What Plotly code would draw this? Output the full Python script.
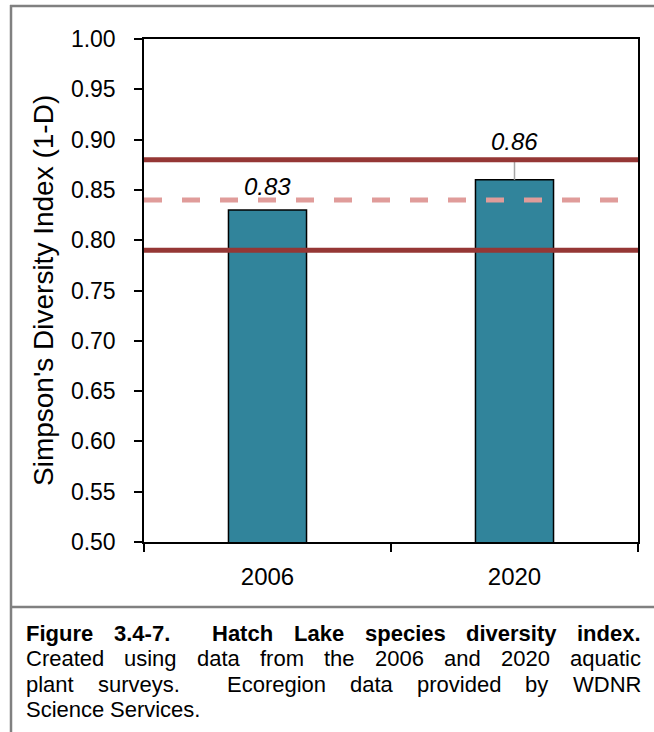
import plotly.graph_objects as go

# Survey years and Simpson's diversity index (1-D)
years = ["2006", "2020"]
simpson_index = [0.83, 0.86]
value_labels = ["0.83", "0.86"]

# Ecoregion reference values (upper / lower quartile and median)
ecoregion_upper = 0.88
ecoregion_median = 0.84
ecoregion_lower = 0.79

# Y axis ticks
y_ticks = [0.50, 0.55, 0.60, 0.65, 0.70, 0.75, 0.80, 0.85, 0.90, 0.95, 1.00]

caption_title = "Figure 3.4-7.  Hatch Lake species diversity index."
caption_body = [
    "Created using data from the 2006 and 2020 aquatic",
    "plant surveys.  Ecoregion data provided by WDNR",
    "Science Services.",
]

W, H = 654, 732
ML, MR, MT, MB = 144, 16, 39, 190
PW, PH = W - ML - MR, H - MT - MB


def px_x(px):
    return (px - ML) / PW


def px_y(py):
    return (H - MB - py) / PH


BAR_COLOR = "#31849B"
DARK_RED = "#953735"
PINK = "#E09C9A"
GRAY = "#808080"
FONT = "Liberation Sans, Arial, sans-serif"

# Advance widths (1/1000 em) of Liberation Sans / Arial, used to justify the caption
REG_W = {" ": 278, ".": 278, "-": 333, "'": 191, "(": 333, ")": 333,
         "a": 556, "b": 556, "c": 500, "d": 556, "e": 556, "f": 278, "g": 556,
         "h": 556, "i": 222, "j": 222, "k": 500, "l": 222, "m": 833, "n": 556,
         "o": 556, "p": 556, "q": 556, "r": 333, "s": 500, "t": 278, "u": 556,
         "v": 500, "w": 722, "x": 500, "y": 500, "z": 500,
         "C": 722, "D": 722, "E": 667, "F": 611, "H": 722, "I": 278, "L": 556,
         "N": 722, "R": 722, "S": 667, "W": 944}
BOLD_W = {" ": 278, ".": 278, "-": 333, "a": 556, "c": 556, "d": 611, "e": 556,
          "g": 611, "h": 611, "i": 278, "k": 556, "n": 611, "p": 611, "r": 389,
          "s": 556, "t": 333, "u": 611, "v": 556, "x": 556, "y": 556,
          "F": 611, "H": 722, "L": 611}


def text_width(s, size, bold=False):
    table = BOLD_W if bold else REG_W
    return sum(556 if ch.isdigit() else table.get(ch, 556) for ch in s) * size / 1000


fig = go.Figure()
fig.add_trace(go.Bar(
    x=years, y=simpson_index, width=0.316,
    marker=dict(color=BAR_COLOR, line=dict(color="black", width=1.5)),
    showlegend=False, hoverinfo="x+y",
))

# Ecoregion median as a dashed line across the plot
fig.add_trace(go.Scatter(
    x=[-0.5, 1.5], y=[ecoregion_median, ecoregion_median], mode="lines",
    line=dict(color=PINK, width=5, dash="18px,20px"),
    showlegend=False, hoverinfo="skip", xaxis="x2",
))

shapes = []
# leader line from the 2020 label down to its bar
shapes.append(dict(type="line", xref="x", yref="y", x0=1, x1=1,
                   y0=simpson_index[1], y1=ecoregion_upper,
                   line=dict(color="#A6A6A6", width=1.5)))
for yv in (ecoregion_upper, ecoregion_lower):
    shapes.append(dict(type="line", xref="paper", yref="y", x0=0, x1=1,
                       y0=yv, y1=yv, line=dict(color=DARK_RED, width=5)))

# Frame around figure and caption
shapes.append(dict(type="line", xref="paper", yref="paper",
                   x0=px_x(10), x1=px_x(656), y0=px_y(6), y1=px_y(6),
                   line=dict(color=GRAY, width=2.5)))
shapes.append(dict(type="line", xref="paper", yref="paper",
                   x0=px_x(11), x1=px_x(11), y0=px_y(5), y1=px_y(735),
                   line=dict(color=GRAY, width=2.5)))
shapes.append(dict(type="line", xref="paper", yref="paper",
                   x0=px_x(10), x1=px_x(656), y0=px_y(607), y1=px_y(607),
                   line=dict(color=GRAY, width=2.5)))

annotations = []
label_shift = [24, 38]
for i, (v, lab, s) in enumerate(zip(simpson_index, value_labels, label_shift)):
    annotations.append(dict(x=i, y=v, xref="x", yref="y", text="<i>" + lab + "</i>",
                            showarrow=False, yshift=s, yanchor="middle",
                            font=dict(family=FONT, size=24, color="black")))

annotations.append(dict(x=px_x(43), y=px_y(291), xref="paper", yref="paper",
                        text="Simpson's Diversity Index (1-D)", textangle=-90,
                        showarrow=False, xanchor="center", yanchor="middle",
                        font=dict(family=FONT, size=28, color="black")))

# Caption, justified between the left and right text margins
CAP_SIZE = 22
CAP_LEFT, CAP_RIGHT = 25, 640
caption_y = [633, 658.5, 684, 709.5]


def place_line(line, cy, bold, justify):
    words = line.split(" ")
    # group words with the number of spaces that precede each one
    tokens, spaces = [], []
    pending = 0
    for w in words:
        if w == "":
            pending += 1
            continue
        tokens.append(w)
        spaces.append(pending + (1 if tokens[:-1] else 0))
        pending = 0
    spaces[0] = 0
    widths = [text_width(t, CAP_SIZE, bold) for t in tokens]
    sp = text_width(" ", CAP_SIZE)
    n_sp = sum(spaces)
    if justify and n_sp:
        sp = (CAP_RIGHT - CAP_LEFT - sum(widths)) / n_sp
    x = CAP_LEFT
    for t, w, k in zip(tokens, widths, spaces):
        x += k * sp
        txt = "<b>" + t + "</b>" if bold else t
        annotations.append(dict(x=px_x(x), y=px_y(cy), xref="paper", yref="paper",
                                text=txt, showarrow=False, xanchor="left",
                                yanchor="middle", borderpad=0,
                                font=dict(family=FONT, size=CAP_SIZE, color="black")))
        x += w


place_line(caption_title, caption_y[0], True, True)
for j, line in enumerate(caption_body):
    place_line(line, caption_y[j + 1], False, j < len(caption_body) - 1)

fig.update_layout(
    width=W, height=H,
    margin=dict(l=ML, r=MR, t=MT, b=MB, autoexpand=False),
    paper_bgcolor="white", plot_bgcolor="white",
    shapes=shapes, annotations=annotations,
    xaxis=dict(type="category", categoryorder="array", categoryarray=years,
               range=[-0.5, 1.5], tickson="boundaries", ticks="outside", ticklen=8,
               tickwidth=1.5, tickcolor="black", showline=True, linecolor="black",
               linewidth=1.5, mirror=True, showgrid=False, zeroline=False,
               tickfont=dict(family=FONT, size=24, color="black"),
               ticklabelstandoff=12, fixedrange=True),
    xaxis2=dict(overlaying="x", range=[-0.5, 1.5], visible=False, fixedrange=True),
    yaxis=dict(range=[0.5, 1.0], tickvals=y_ticks, tickformat=".2f", ticks="outside",
               ticklen=8, tickwidth=1.5, tickcolor="black", showline=True,
               linecolor="black", linewidth=1.5, mirror=True, showgrid=False,
               zeroline=False, tickfont=dict(family=FONT, size=23, color="black"),
               ticklabelstandoff=14, fixedrange=True),
    bargap=0.684,
)

fig.write_html("out.html")
